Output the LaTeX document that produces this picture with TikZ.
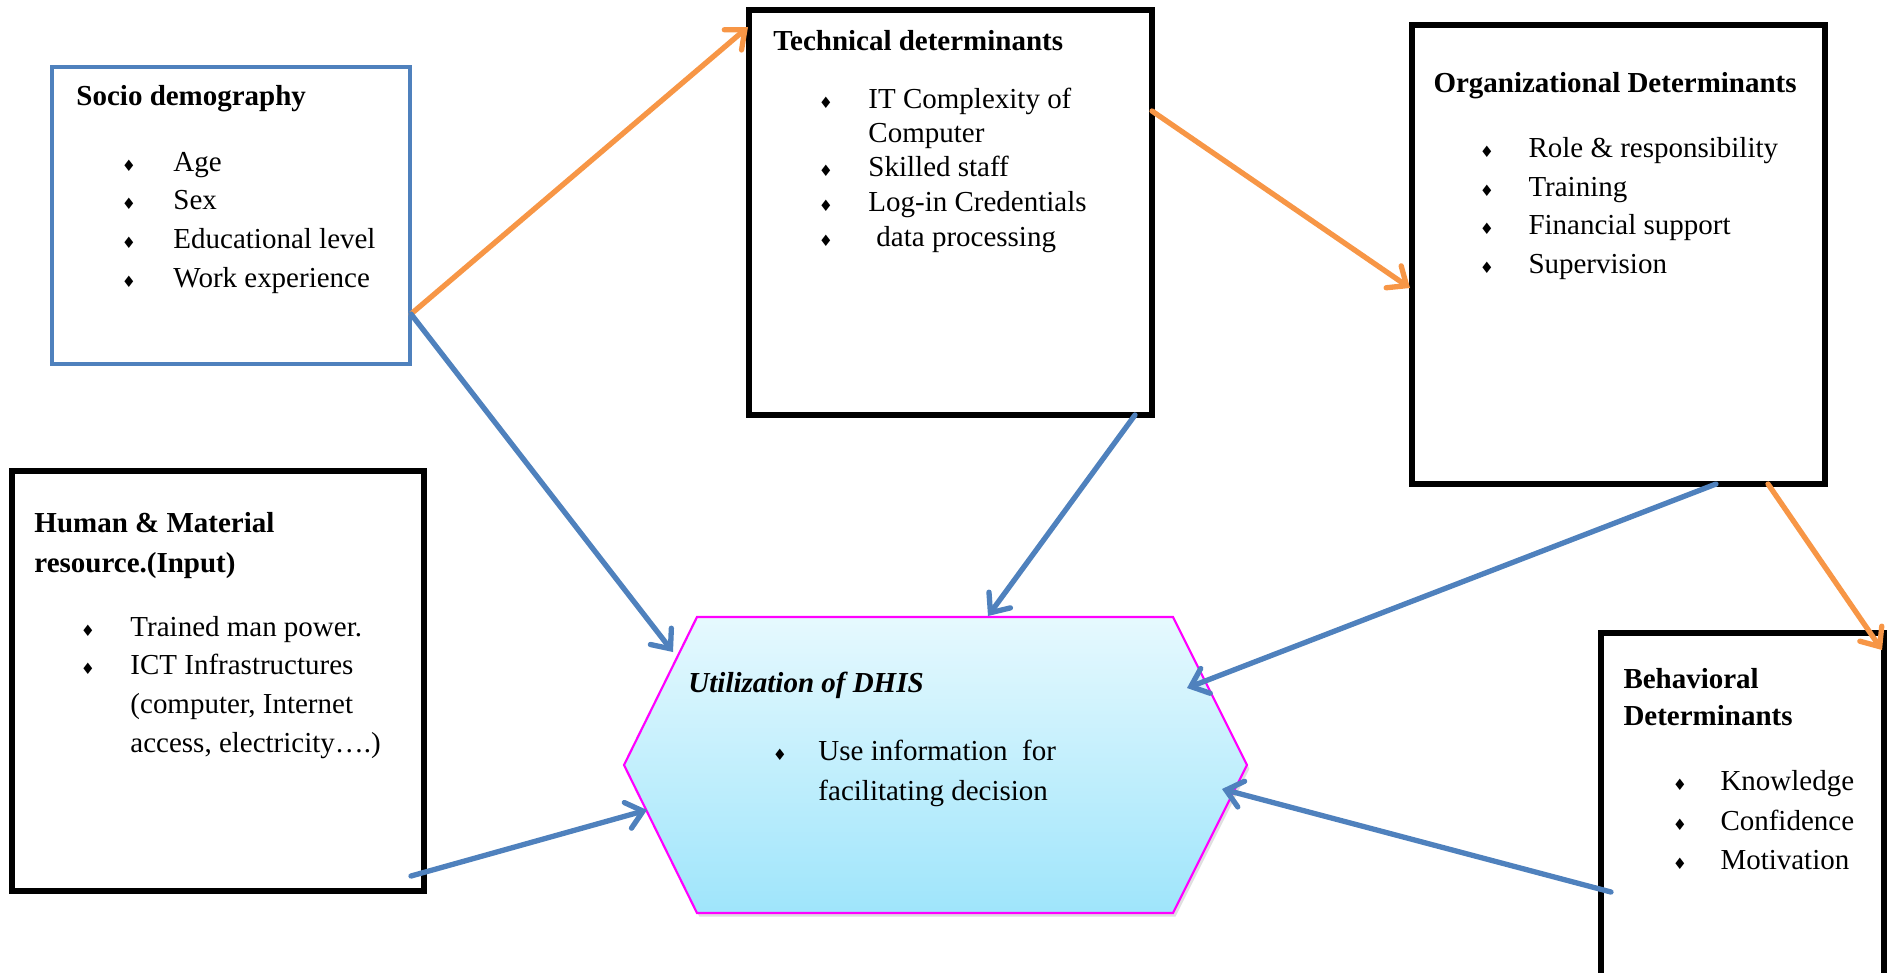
\documentclass[tikz,border=0pt]{standalone}
\usepackage{fontspec}
\setmainfont{Liberation Serif}
\newfontfamily\symfnt{DejaVu Sans}
\usetikzlibrary{arrows.meta,fit,shadows,calc}
\definecolor{orangeA}{HTML}{F79646}
\definecolor{blueA}{HTML}{4F81BD}
\definecolor{hexTop}{HTML}{E6F9FE}
\definecolor{hexBot}{HTML}{9FE5FB}
\definecolor{magA}{RGB}{255,0,255}
\newcommand\bul{{\symfnt\fontsize{6.5}{6.5}\selectfont ♦}}
\newcommand\bitem[5]{%
  \node[blt] (#1b) at (#2,#4) {\bul};
  \node[txt] (#1) at (#3,#4) {#5};}
\begin{document}
\begin{tikzpicture}[x=0.414pt,y=-0.414pt,
  font=\fontsize{12}{14}\selectfont,
  box/.style={draw=black, line width=2.1pt, inner sep=0pt, fill=white},
  sbox/.style={draw=blueA, line width=1.7pt, inner sep=0pt, fill=white},
  txt/.style={anchor=base west, inner sep=0pt},
  ttl/.style={txt, font=\fontsize{12}{14}\selectfont\bfseries},
  blt/.style={anchor=base, inner sep=0pt},
  conn/.style={line width=2.2pt, line cap=round,
    -{Straight Barb[length=6.5pt,width=11pt,line width=2.2pt,line cap=round]}},
  oarr/.style={conn, draw=orangeA},
  barr/.style={conn, draw=blueA}]
\useasboundingbox (0,0) rectangle (1895,972);

% boxes
\node[sbox, fit={(52,67) (410,364)}] (socio) {};
\node[box, fit={(749,10) (1152,415)}] (tech) {};
\node[box, fit={(1412,25) (1825,484)}] (org) {};
\node[box, fit={(1601,633) (1884,985)}] (behav) {};
\node[box, fit={(12,471) (424,891)}] (human) {};

% hexagon
\path[top color=hexTop, bottom color=hexBot, draw=magA, line width=0.9pt,
  drop shadow={opacity=0.25, shadow xshift=1pt, shadow yshift=-1.5pt}]
  (697,617) -- (1173,617) -- (1247,765) -- (1173,913) -- (697,913) -- (624,765) -- cycle;
\node[fit={(624,617) (1247,913)}, inner sep=0pt] (hex) {};

% socio text
\node[ttl] (sociot) at (76,105) {Socio demography};
\bitem{s1}{129}{173}{171}{Age}
\bitem{s2}{129}{173}{209}{Sex}
\bitem{s3}{129}{173}{248}{Educational level}
\bitem{s4}{129}{173}{287}{Work experience}

% technical text
\node[ttl] (techt) at (773,50) {Technical determinants};
\bitem{t1}{826}{868}{108}{IT Complexity of}
\node[txt] (t1b2) at (868,142) {Computer};
\bitem{t2}{826}{868}{176}{Skilled staff}
\bitem{t3}{826}{868}{211}{Log-in Credentials}
\bitem{t4}{826}{876}{246}{data processing}

% organizational text
\node[ttl] (orgt) at (1433,92) {Organizational Determinants};
\bitem{o1}{1487}{1528}{157}{Role \& responsibility}
\bitem{o2}{1487}{1528}{196}{Training}
\bitem{o3}{1487}{1528}{234}{Financial support}
\bitem{o4}{1487}{1528}{273}{Supervision}

% behavioral text
\node[ttl] (behavt1) at (1623,688) {Behavioral};
\node[ttl] (behavt2) at (1623,725) {Determinants};
\bitem{b1}{1680}{1720}{790}{Knowledge}
\bitem{b2}{1680}{1720}{830}{Confidence}
\bitem{b3}{1680}{1720}{869}{Motivation}

% human text
\node[ttl] (humant1) at (34,532) {Human \& Material};
\node[ttl] (humant2) at (34,572) {resource.(Input)};
\bitem{h1}{88}{130}{636}{Trained man power.}
\bitem{h2}{88}{130}{674}{ICT Infrastructures}
\node[txt] (h2b) at (130,713) {(computer, Internet};
\node[txt] (h2c) at (130,752) {access, electricity….)};

% hexagon text
\node[txt, font=\fontsize{12}{14}\selectfont\bfseries\itshape] (hext) at (688,692) {Utilization of DHIS};
\bitem{x1}{780}{818}{760}{Use information\ \ for}
\node[txt] (x1b) at (818,800) {facilitating decision};

% connector end points
\coordinate (sE) at (411,314);
\coordinate (tW) at (748,27);
\coordinate (tE) at (1152,111);
\coordinate (oW) at (1410,288);
\coordinate (oS1) at (1768,484);
\coordinate (bN) at (1882,650);
\coordinate (tS) at (1135,415);
\coordinate (oS2) at (1716,484);
\coordinate (hE) at (411,876);
\coordinate (bW) at (1611,892);
\coordinate (xNW) at (673,652);
\coordinate (xN) at (988,616);
\coordinate (xNE) at (1187,688);
\coordinate (xW) at (647,810);
\coordinate (xE) at (1222,789);

% orange arrows
\draw[oarr] (sE) -- (tW);
\draw[oarr] (tE) -- (oW);
\draw[oarr] (oS1) -- (bN);
% blue arrows
\draw[barr] (sE) -- (xNW);
\draw[barr] (tS) -- (xN);
\draw[barr] (oS2) -- (xNE);
\draw[barr] (hE) -- (xW);
\draw[barr] (bW) -- (xE);
\end{tikzpicture}
\end{document}
